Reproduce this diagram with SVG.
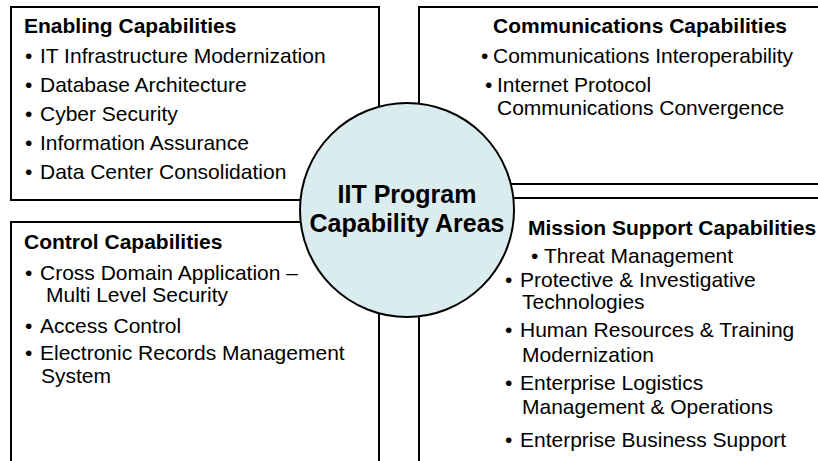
<svg xmlns="http://www.w3.org/2000/svg" width="818" height="461" viewBox="0 0 818 461">
<style>
.box{fill:#ffffff;stroke:#000000;stroke-width:2}
.hub{fill:#daecee;stroke:#000000;stroke-width:2}
text{font-family:"Liberation Sans",Arial,sans-serif;fill:#000000}
.t{font-size:21px;font-weight:bold}
.b{font-size:21px}
.c{font-size:25px;font-weight:bold;text-anchor:middle}
</style>
<rect width="818" height="461" fill="#ffffff"/>
<g id="enabling">
<rect class="box" x="11" y="7" width="368" height="193"/>
<text class="t" x="24" y="33">Enabling Capabilities</text>
<text class="b" x="25" y="63">•</text><text class="b" x="40" y="63">IT Infrastructure Modernization</text>
<text class="b" x="25" y="92">•</text><text class="b" x="40" y="92">Database Architecture</text>
<text class="b" x="25" y="121">•</text><text class="b" x="40" y="121">Cyber Security</text>
<text class="b" x="25" y="150">•</text><text class="b" x="40" y="150">Information Assurance</text>
<text class="b" x="25" y="179">•</text><text class="b" x="40" y="179">Data Center Consolidation</text>
</g>
<g id="communications">
<rect class="box" x="419" y="7" width="410" height="177"/>
<text class="t" x="640" y="33" text-anchor="middle">Communications Capabilities</text>
<text class="b" x="481" y="63">•</text><text class="b" x="493" y="63">Communications Interoperability</text>
<text class="b" x="485" y="92">•</text><text class="b" x="497" y="92">Internet Protocol</text>
<text class="b" x="497" y="115">Communications Convergence</text>
</g>
<g id="control">
<rect class="box" x="11" y="222" width="368" height="250"/>
<text class="t" x="24" y="249">Control Capabilities</text>
<text class="b" x="25" y="280">•</text><text class="b" x="40" y="280">Cross Domain Application –</text>
<text class="b" x="46" y="302">Multi Level Security</text>
<text class="b" x="25" y="333">•</text><text class="b" x="40" y="333">Access Control</text>
<text class="b" x="25" y="360">•</text><text class="b" x="40" y="360">Electronic Records Management</text>
<text class="b" x="41" y="383">System</text>
</g>
<g id="mission">
<rect class="box" x="419" y="198" width="410" height="274"/>
<text class="t" x="528" y="235">Mission Support Capabilities</text>
<text class="b" x="531" y="263">•</text><text class="b" x="544" y="263">Threat Management</text>
<text class="b" x="505" y="287">•</text><text class="b" x="520" y="287">Protective &amp; Investigative</text>
<text class="b" x="522" y="309">Technologies</text>
<text class="b" x="505" y="337">•</text><text class="b" x="520" y="337">Human Resources &amp; Training</text>
<text class="b" x="522" y="362">Modernization</text>
<text class="b" x="505" y="390">•</text><text class="b" x="520" y="390">Enterprise Logistics</text>
<text class="b" x="522" y="414">Management &amp; Operations</text>
<text class="b" x="505" y="447">•</text><text class="b" x="520" y="447">Enterprise Business Support</text>
</g>
<g id="hub">
<circle class="hub" cx="407" cy="210" r="107"/>
<text class="c" x="407" y="203">IIT Program</text>
<text class="c" x="407" y="232">Capability Areas</text>
</g>
</svg>
